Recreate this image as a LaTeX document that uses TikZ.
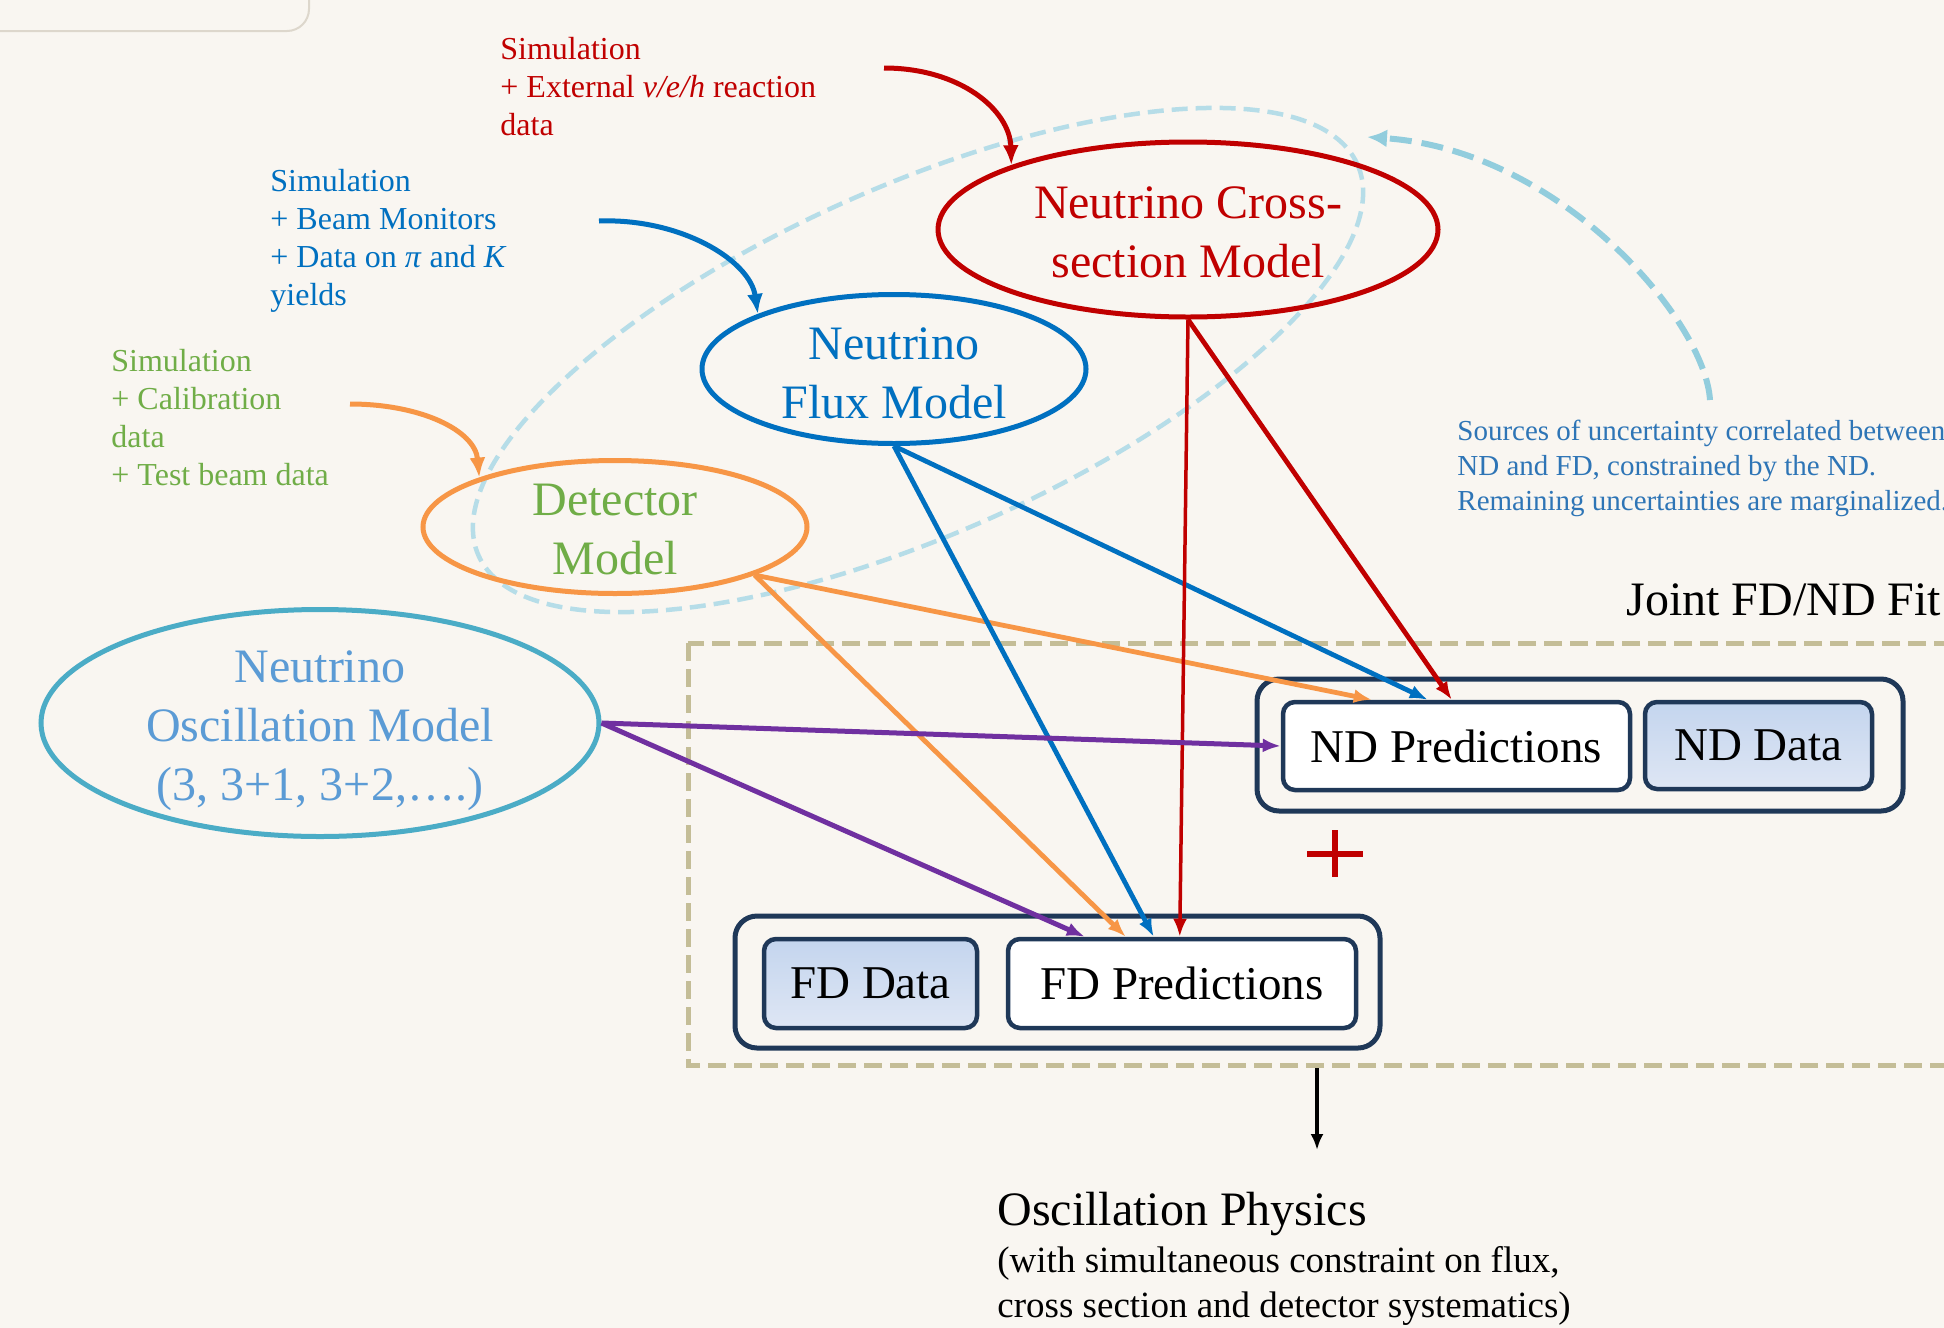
\documentclass[tikz,border=0pt]{standalone}
\usepackage{fontspec}
\setmainfont{Liberation Serif}
\usetikzlibrary{shapes.geometric,arrows.meta,calc}

\definecolor{paper}{RGB}{249,246,241}
\definecolor{xsecred}{RGB}{192,0,0}
\definecolor{fluxblue}{RGB}{0,112,192}
\definecolor{detorange}{RGB}{247,150,70}
\definecolor{detgreen}{RGB}{112,173,71}
\definecolor{oscteal}{RGB}{75,172,198}
\definecolor{osctext}{RGB}{91,155,213}
\definecolor{oscpurple}{RGB}{112,48,160}
\definecolor{boxnavy}{RGB}{31,56,88}
\definecolor{fittan}{RGB}{196,189,151}
\definecolor{corrblue}{RGB}{182,221,232}
\definecolor{corrarrow}{RGB}{146,205,221}
\definecolor{notetext}{RGB}{46,117,182}
\definecolor{datatop}{RGB}{196,213,238}
\definecolor{databot}{RGB}{222,230,244}
\definecolor{oldframe}{RGB}{221,215,204}

\begin{document}
\begin{tikzpicture}[x=0.5pt,y=0.5pt,yscale=-1,
  model/.style={ellipse,draw,line width=2.5pt,inner sep=0pt},
  modeltext/.style={inner sep=0pt,align=center,font=\fontsize{24}{29.5}\selectfont},
  source/.style={anchor=north west,inner sep=0pt,align=left,
    font=\fontsize{16}{19}\selectfont},
  predbox/.style={draw=boxnavy,line width=2.25pt,rounded corners=6pt,fill=white,
    inner sep=0pt,font=\fontsize{23.5}{28}\selectfont},
  databox/.style={predbox,top color=datatop,bottom color=databot},
  groupbox/.style={draw=boxnavy,line width=2.5pt,rounded corners=11pt,inner sep=0pt},
  feed/.style={line width=2.4pt,-{Latex[length=9pt,width=7pt]}},
  feedcurve/.style={line width=2.5pt,-{Latex[length=10pt,width=8pt]}}
]
\useasboundingbox[fill=paper] (0,0) rectangle (1944,1328);

%Shape: Rectangle (left over frame)
\draw[oldframe,line width=1pt,rounded corners=11pt] (-40,-40) rectangle (309,31);

%Shape: Ellipse (shared uncertainties)
\draw[corrblue,line width=2.25pt,dash pattern=on 8pt off 4pt,rotate around={-24:(918,360)}]
  (918,360) ellipse [x radius=481, y radius=174];

%Shape: Rectangle (joint fit)
\draw[fittan,line width=2.5pt,dash pattern=on 9pt off 4pt] (688,643) rectangle (1990,1065);

%Flowchart: Models
\node[model,draw=xsecred,minimum width=250pt,minimum height=87.5pt] (xsec) at (1188,229.5) {};
\node[model,draw=fluxblue,minimum width=192pt,minimum height=74.5pt] (flux) at (894,369) {};
\node[model,draw=detorange,minimum width=192pt,minimum height=66.5pt] (det) at (615,527) {};
\node[model,draw=oscteal,minimum width=279pt,minimum height=113.5pt] (osc) at (320,723) {};

%Flowchart: ND / FD boxes
\node[groupbox,minimum width=323pt,minimum height=66pt] (ndbox) at (1580,745) {};
\node[predbox,minimum width=173.5pt,minimum height=44pt] (ndp) at (1456.5,746) {ND Predictions};
\node[databox,minimum width=113.5pt,minimum height=43.5pt] (ndd) at (1758.5,745.5) {ND Data};
\node[groupbox,minimum width=322.5pt,minimum height=66pt] (fdbox) at (1057.5,982) {};
\node[databox,minimum width=106.5pt,minimum height=44.5pt] (fdd) at (870.5,983.5) {FD Data};
\node[predbox,minimum width=174pt,minimum height=44.5pt] (fdp) at (1182,983.5) {FD Predictions};

% plus between the two
\coordinate (plus) at (1335,854);
\draw[xsecred,line width=2.75pt] (plus) +(-28,0) -- +(28,0) (plus) +(0,-24) -- +(0,23);

%Curve Lines (inputs)
\coordinate (xsecsrc) at (884,68);
\coordinate (fluxsrc) at (599,221);
\coordinate (detsrc) at (350,404);
\draw[feedcurve,xsecred] (xsecsrc) .. controls (960,68) and (1010,110) .. (xsec.160);
\draw[feedcurve,fluxblue] (fluxsrc) .. controls (680,218) and (750,260) .. (flux.158);
\draw[feedcurve,detorange] (detsrc) .. controls (420,404) and (475,430) .. (det.160);

%Straight Lines (models to predictions)
\draw[feed,detorange] (det.-19) -- ($(ndp.north west)+(91,0)$);
\draw[feed,detorange] (det.-19) -- ($(fdp.north west)+(120,0)$);
\draw[feed,fluxblue] (flux.south) -- ($(ndp.north west)+(147,0)$);
\draw[feed,fluxblue] (flux.south) -- ($(fdp.north west)+(148,0)$);
\draw[feed,xsecred] (xsec.south) -- ($(ndp.north west)+(171,0)$);
\draw[feed,xsecred,line width=1.75pt] (xsec.south) -- ($(fdp.north west)+(174,0)$);
\draw[feed,oscpurple,line width=2.5pt] (osc.east) -- (ndp.west);
\draw[feed,oscpurple,line width=2.5pt] (osc.east) -- ($(fdp.north west)+(79,0)$);

%Curve Lines (correlated uncertainties)
\coordinate (corrsrc) at (1710,400);
\coordinate (corrtip) at (1367,137);
\draw[corrarrow,line width=3pt,dash pattern=on 11pt off 5pt,-{Latex[length=10pt,width=9pt]}]
  (corrsrc) .. controls (1705,320) and (1560,150) .. (corrtip);

%Straight Lines (result)
\coordinate (fitout) at (1317,1068);
\coordinate (physin) at (1317,1150);
\draw[line width=1.75pt,-{Latex[length=8pt,width=6.5pt]}] (fitout) -- (physin);

% Text Node
\node[modeltext,text=xsecred] (xseclabel) at ($(xsec)+(0,3)$) {Neutrino Cross-\\section Model};
% Text Node
\node[modeltext,text=fluxblue] (fluxlabel) at ($(flux)+(0,4)$) {Neutrino\\Flux Model};
% Text Node
\node[modeltext,text=detgreen] (detlabel) at ($(det)+(0,3)$) {Detector\\Model};
% Text Node
\node[modeltext,text=osctext] (osclabel) at ($(osc)+(0,8)$) {Neutrino\\Oscillation Model\\(3, 3+1, 3+2,….)};
% Text Node
\node[source,text=xsecred] (xsecinfo) at (500,37)
  {Simulation\\+ External \textit{ν/e/h} reaction\\data};
% Text Node
\node[source,text=fluxblue] (fluxinfo) at (270,169)
  {Simulation\\+ Beam Monitors\\+ Data on \textit{π} and \textit{K}\\yields};
% Text Node
\node[source,text=detgreen] (detinfo) at (111,349)
  {Simulation\\+ Calibration\\data\\+ Test beam data};
% Text Node
\node[source,text=notetext,font=\fontsize{14.5}{17.5}\selectfont] (corrinfo) at (1457,420)
  {Sources of uncertainty correlated between\\ND and FD, constrained by the ND.\\Remaining uncertainties are marginalized.};
% Text Node
\node[anchor=base west,inner sep=0pt,font=\fontsize{24}{29}\selectfont] (fitlabel) at (1626,615)
  {Joint FD/ND Fit};
% Text Node
\node[anchor=base west,inner sep=0pt,font=\fontsize{24}{29}\selectfont] (physics) at (997,1225)
  {Oscillation Physics};
% Text Node
\node[source,font=\fontsize{18.5}{22.5}\selectfont] (physicsnote) at (997,1246.5)
  {(with simultaneous constraint on flux,\\cross section and detector systematics)};

\end{tikzpicture}
\end{document}
